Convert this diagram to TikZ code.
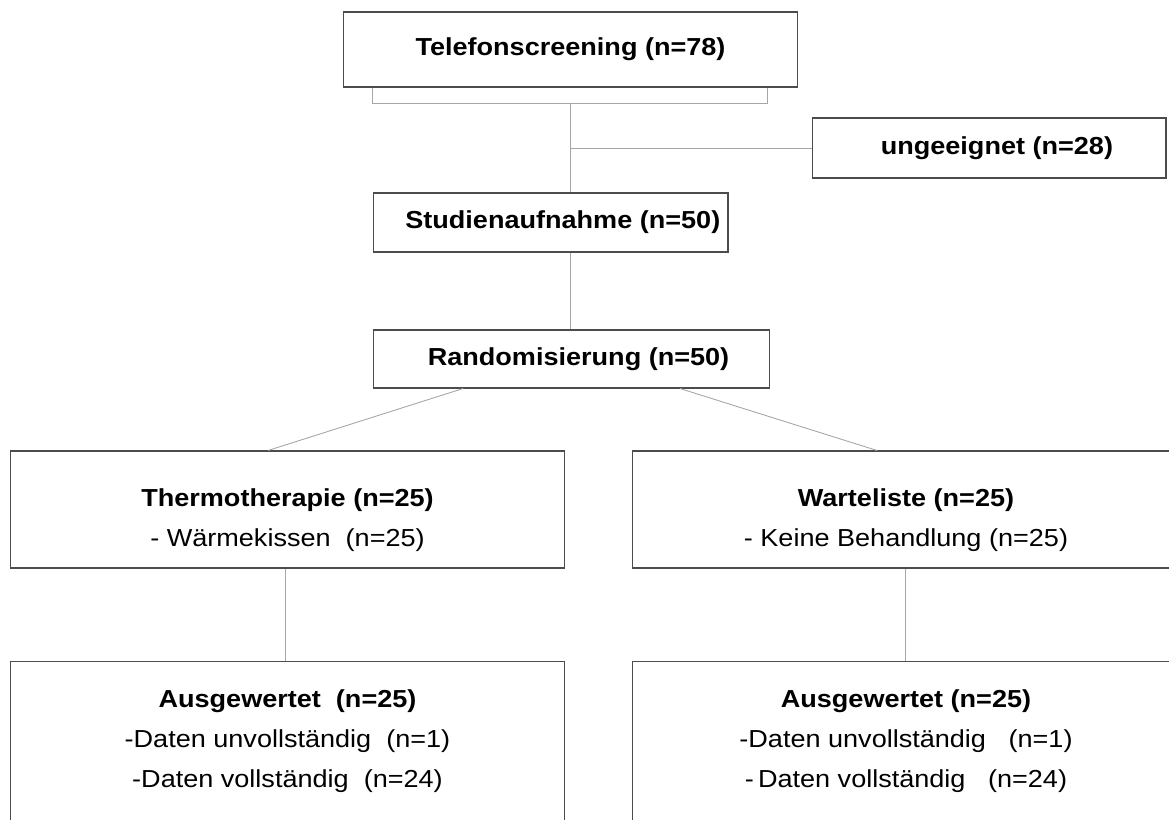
\documentclass[tikz,border=0pt]{standalone}
\usepackage{fontspec}
\setmainfont{Liberation Sans}[FakeStretch=1.1]
\usepackage{tikz}
\usetikzlibrary{positioning}

\tikzset{
  box/.style={draw=black!70, line width=0.6pt, rectangle, inner sep=0pt, align=center,
              font=\fontsize{14}{16.8}\selectfont},
  conn/.style={draw=black!35, line width=0.5pt},
}

\begin{document}
\begin{tikzpicture}[x=0.02cm, y=-0.02cm]

\useasboundingbox (0,0) rectangle (1169,819);
\clip (0,0) rectangle (1169,819);

\node [box, minimum width=9.1cm,  minimum height=1.5cm ] (tel)    at (570.5,49.5) {\textbf{Telefonscreening (n=78)}};
\node [box, minimum width=7.08cm, minimum height=1.2cm ] (excl)   at (989,148)    {\hspace*{9pt}\textbf{ungeeignet (n=28)}};
\node [box, minimum width=7.1cm,  minimum height=1.18cm] (stud)   at (550.5,222.5){\hspace*{14pt}\textbf{Studienaufnahme (n=50)}};
\node [box, minimum width=7.94cm, minimum height=1.16cm] (rand)   at (571.5,359)  {\hspace*{8pt}\textbf{Randomisierung (n=50)}};
\node [box, minimum width=11.1cm, minimum height=2.34cm] (thermo) at (287.5,509.5){\rule{0pt}{22pt}\textbf{Thermotherapie (n=25)}\\[6pt] - Wärmekissen\ \ (n=25)};
\node [box, minimum width=10.96cm,minimum height=2.34cm] (wait)   at (906,509.5)  {\rule{0pt}{22pt}\textbf{Warteliste (n=25)}\\[6pt] - Keine Behandlung (n=25)};
\node [box, minimum width=11.1cm, minimum height=3.2cm ] (evalA)  at (287.5,741)  {\textbf{Ausgewertet\ \ (n=25)}\\[6pt] -Daten unvollständig\ \ (n=1)\\[6pt] -Daten vollständig\ \ (n=24)};
\node [box, minimum width=10.96cm,minimum height=3.2cm ] (evalB)  at (906,741)    {\textbf{Ausgewertet (n=25)}\\[6pt] -Daten unvollständig\ \ \ (n=1)\\[6pt] -\,Daten vollständig\ \ \ (n=24)};

\coordinate (brk) at (570,103);

\path [conn] ([xshift=0.6cm]tel.south west) -- ++(0,16) -| ([xshift=-0.62cm]tel.south east);
\path [conn] (brk) edge (brk |- stud.north);
\path [conn] (brk |- excl.west) edge (excl.west);
\path [conn] (brk |- stud.south) edge (brk |- rand.north);
\path [conn] ([xshift=-2.17cm]rand.south) edge ([xshift=-0.39cm]thermo.north);
\path [conn] ([xshift=2.17cm]rand.south) edge ([xshift=-0.58cm]wait.north);
\path [conn] ([xshift=-0.05cm]thermo.south) edge ([xshift=-0.05cm]evalA.north);
\path [conn] ([xshift=-0.02cm]wait.south) edge ([xshift=-0.02cm]evalB.north);

\end{tikzpicture}
\end{document}
